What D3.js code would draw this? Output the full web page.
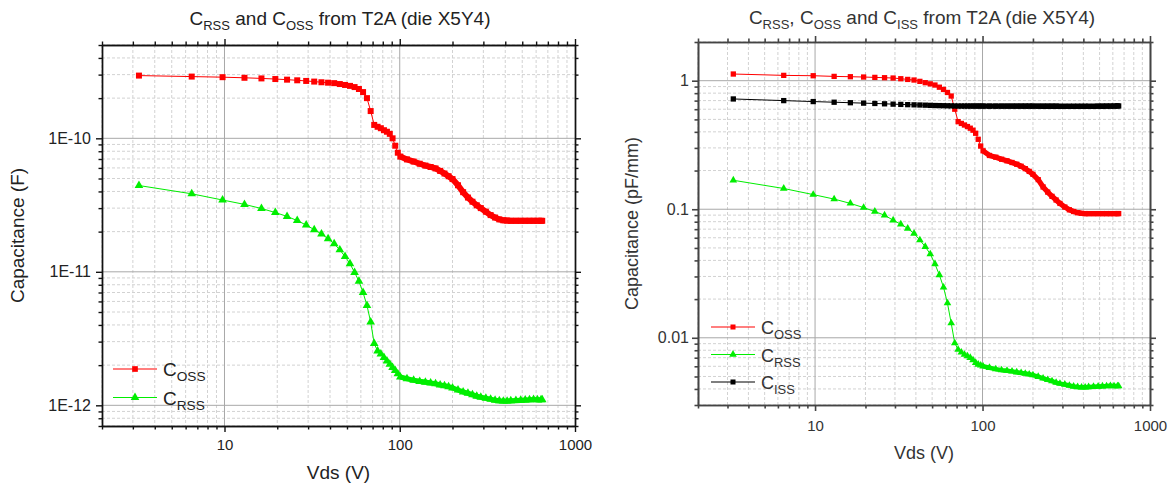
<!DOCTYPE html>
<html>
<head>
<meta charset="utf-8">
<script src="https://cdn.jsdelivr.net/npm/d3@7"></script>
<style>
  body { margin: 0; background: #fff; }
  text { font-family: "Liberation Sans", Arial, sans-serif; }
</style>
</head>
<body>
<svg id="chart"></svg>
<script>
// measurement grid (V)
const vds = [3.25, 6.5, 9.75, 13, 16.25, 19.5, 22.75, 26, 29.25, 32.5,
  35.75, 39, 42.25, 45.5, 48.75, 52, 55.25, 58.5, 61.75, 65,
  68.25, 71.5, 74.75, 78, 81.25, 84.5, 87.75, 91, 94.25, 97.5,
  100.75, 110, 120, 130, 140, 150, 160, 170, 180, 190,
  200, 215, 230, 245, 260, 275, 290, 310, 330, 350,
  370, 390, 410, 430, 460, 490, 520, 550, 580, 610,
  640, 650];

// left panel, farads
const cossF = [2.95e-10, 2.90e-10, 2.87e-10, 2.84e-10, 2.81e-10, 2.78e-10, 2.75e-10, 2.72e-10, 2.69e-10, 2.66e-10,
  2.63e-10, 2.61e-10, 2.59e-10, 2.55e-10, 2.51e-10, 2.47e-10, 2.42e-10, 2.34e-10, 2.22e-10, 2.0e-10,
  1.6e-10, 1.26e-10, 1.22e-10, 1.19e-10, 1.15e-10, 1.12e-10, 1.08e-10, 1.0e-10, 8.8e-11, 7.8e-11,
  7.3e-11, 6.95e-11, 6.7e-11, 6.45e-11, 6.25e-11, 6.1e-11, 5.95e-11, 5.7e-11, 5.45e-11, 5.2e-11,
  4.95e-11, 4.45e-11, 3.95e-11, 3.6e-11, 3.35e-11, 3.15e-11, 3.0e-11, 2.82e-11, 2.66e-11, 2.55e-11,
  2.47e-11, 2.43e-11, 2.42e-11, 2.41e-11, 2.41e-11, 2.41e-11, 2.41e-11, 2.41e-11, 2.41e-11, 2.41e-11,
  2.41e-11, 2.41e-11];
const crssF = [4.43e-11, 3.84e-11, 3.45e-11, 3.2e-11, 2.98e-11, 2.78e-11, 2.6e-11, 2.42e-11, 2.24e-11, 2.07e-11,
  1.92e-11, 1.77e-11, 1.62e-11, 1.46e-11, 1.3e-11, 1.15e-11, 9.9e-12, 8.5e-12, 7.0e-12, 5.6e-12,
  4.2e-12, 2.9e-12, 2.55e-12, 2.42e-12, 2.28e-12, 2.15e-12, 2.03e-12, 1.92e-12, 1.82e-12, 1.72e-12,
  1.63e-12, 1.58e-12, 1.54e-12, 1.51e-12, 1.49e-12, 1.47e-12, 1.45e-12, 1.42e-12, 1.40e-12, 1.38e-12,
  1.35e-12, 1.30e-12, 1.26e-12, 1.23e-12, 1.20e-12, 1.17e-12, 1.15e-12, 1.13e-12, 1.11e-12, 1.09e-12,
  1.08e-12, 1.075e-12, 1.075e-12, 1.08e-12, 1.085e-12, 1.09e-12, 1.095e-12, 1.10e-12, 1.105e-12, 1.10e-12,
  1.10e-12, 1.10e-12];

// right panel, pF/mm
const cossPF = [1.127, 1.10, 1.093, 1.08, 1.074, 1.068, 1.061, 1.055, 1.049, 1.036,
  1.023, 1.012, 0.988, 0.965, 0.945, 0.925, 0.89, 0.855, 0.81, 0.76,
  0.60, 0.48, 0.465, 0.452, 0.44, 0.427, 0.412, 0.39, 0.35, 0.31,
  0.285, 0.262, 0.254, 0.245, 0.238, 0.231, 0.224, 0.216, 0.207, 0.197,
  0.187, 0.170, 0.149, 0.136, 0.126, 0.118, 0.111, 0.104, 0.099, 0.096,
  0.094, 0.093, 0.0925, 0.0925, 0.0925, 0.0925, 0.0925, 0.0925, 0.0925, 0.0925,
  0.0925, 0.0925];
const crssPF = [0.168, 0.145, 0.13, 0.12, 0.111, 0.103, 0.096, 0.0898, 0.0822, 0.0765,
  0.0709, 0.0648, 0.0575, 0.0511, 0.0448, 0.0375, 0.0308, 0.0247, 0.0186, 0.013,
  0.0091, 0.0081, 0.0077, 0.0074, 0.0072, 0.0070, 0.0067, 0.0064, 0.0062, 0.0061,
  0.0060, 0.00585, 0.0057, 0.0056, 0.00555, 0.00548, 0.0054, 0.00533, 0.00527, 0.0052,
  0.00512, 0.00498, 0.00483, 0.00471, 0.0046, 0.00448, 0.0044, 0.00433, 0.00425, 0.00418,
  0.00414, 0.00412, 0.00412, 0.00414, 0.00416, 0.00418, 0.0042, 0.00421, 0.00423, 0.00421,
  0.00421, 0.00421];
const cissPF = [0.721, 0.70, 0.688, 0.68, 0.674, 0.669, 0.665, 0.661, 0.657, 0.654,
  0.651, 0.649, 0.647, 0.645, 0.643, 0.641, 0.640, 0.639, 0.638, 0.637,
  0.636, 0.635, 0.635, 0.635, 0.635, 0.635, 0.635, 0.635, 0.635, 0.635,
  0.635, 0.634, 0.634, 0.634, 0.634, 0.634, 0.634, 0.634, 0.634, 0.634,
  0.634, 0.633, 0.633, 0.633, 0.633, 0.633, 0.632, 0.632, 0.632, 0.632,
  0.632, 0.632, 0.632, 0.632, 0.632, 0.633, 0.633, 0.634, 0.634, 0.635,
  0.636, 0.636];

const xTicks = [10, 100, 1000];
const xTickLabels = ["10", "100", "1000"];
const yTicksF = [1e-12, 1e-11, 1e-10];
const yTickLabelsF = ["1E-12", "1E-11", "1E-10"];
const yTicksPF = [0.01, 0.1, 1];
const yTickLabelsPF = ["0.01", "0.1", "1"];

const svg = d3.select("#chart").attr("width", 1170).attr("height", 490);
svg.append("rect").attr("width", 1170).attr("height", 490).attr("fill", "#fff");

// 2..9 x 10^n inside the domain
function minorTicks(domain) {
  const out = [];
  for (let e = Math.floor(Math.log10(domain[0])); e <= Math.ceil(Math.log10(domain[1])); e++) {
    for (let k = 2; k <= 9; k++) {
      const v = k * Math.pow(10, e);
      if (v >= domain[0] * 0.999 && v <= domain[1] * 1.001) out.push(v);
    }
  }
  return out;
}

// text with C + subscript pieces
function richText(sel, parts, big, small) {
  parts.forEach((p, i) => {
    const t = sel.append("tspan").text(p[0]).attr("font-size", p[1] ? small : big);
    if (p[1]) t.attr("dy", big * 0.28);
    else if (i > 0) t.attr("dy", -big * 0.28);
  });
}

const symbols = { square: d3.symbolSquare, triangle: d3.symbolTriangle };

function drawPanel(o) {
  const g = svg.append("g");
  const x = d3.scaleLog().domain(o.xDomain).range([o.left, o.right]);
  const y = d3.scaleLog().domain(o.yDomain).range([o.bottom, o.top]);
  const xMinor = minorTicks(o.xDomain);
  const yMinor = minorTicks(o.yDomain);

  // grid
  g.append("g").selectAll("line").data(xMinor).join("line")
    .attr("x1", d => x(d)).attr("x2", d => x(d))
    .attr("y1", o.top).attr("y2", o.bottom)
    .attr("stroke", "#d2d2d2").attr("stroke-dasharray", "3,2");
  g.append("g").selectAll("line").data(yMinor).join("line")
    .attr("y1", d => y(d)).attr("y2", d => y(d))
    .attr("x1", o.left).attr("x2", o.right)
    .attr("stroke", "#d2d2d2").attr("stroke-dasharray", "3,2");
  g.append("g").selectAll("line").data(xTicks.filter(d => d < o.xDomain[1])).join("line")
    .attr("x1", d => x(d)).attr("x2", d => x(d))
    .attr("y1", o.top).attr("y2", o.bottom)
    .attr("stroke", "#a8a8a8");
  g.append("g").selectAll("line").data(o.yTicks).join("line")
    .attr("y1", d => y(d)).attr("y2", d => y(d))
    .attr("x1", o.left).attr("x2", o.right)
    .attr("stroke", "#a8a8a8");

  // series
  const line = d3.line().x(d => x(d[0])).y(d => y(d[1]));
  o.series.forEach(s => {
    const pts = vds.map((v, i) => [v, s.values[i]]);
    g.append("path")
      .datum(pts)
      .attr("fill", "none")
      .attr("stroke", s.color)
      .attr("stroke-width", 1)
      .attr("d", line);
    // where the markers crowd together they merge into a band
    g.append("path")
      .datum(pts.filter(d => d[0] >= 100))
      .attr("fill", "none")
      .attr("stroke", s.color)
      .attr("stroke-width", s.shape === "square" ? o.band : o.band - 0.8)
      .attr("stroke-linejoin", "round")
      .attr("d", line);
    g.append("g").selectAll("path").data(pts).join("path")
      .attr("transform", d => `translate(${x(d[0])},${y(d[1])})`)
      .attr("d", d3.symbol().type(symbols[s.shape]).size(s.shape === "square" ? o.msize : o.msize * 0.9))
      .attr("fill", s.color);
  });

  // axes
  const styleAxis = (a, fs) => {
    a.selectAll("g").attr("font-family", null).attr("font-size", null);
    a.attr("font-family", null).attr("font-size", null);
    a.selectAll("path, line").attr("stroke", o.axisColor).attr("stroke-width", o.axisWidth);
    a.selectAll("text").attr("fill", o.textColor).attr("font-size", fs);
  };
  const bottom = g.append("g").attr("transform", `translate(0,${o.bottom})`);
  bottom.call(d3.axisBottom(x).tickValues(xMinor).tickFormat("").tickSize(3.5).tickSizeOuter(0));
  bottom.append("g").call(d3.axisBottom(x).tickValues(xTicks).tickFormat((d, i) => xTickLabels[i]).tickSize(6).tickSizeOuter(0).tickPadding(o.xPad));
  styleAxis(bottom, o.xTickFont);

  const top = g.append("g").attr("transform", `translate(0,${o.top})`);
  top.call(d3.axisTop(x).tickValues(xMinor).tickFormat("").tickSize(3.5).tickSizeOuter(0));
  top.append("g").call(d3.axisTop(x).tickValues(xTicks).tickFormat("").tickSize(6).tickSizeOuter(0));
  styleAxis(top, o.xTickFont);

  const left = g.append("g").attr("transform", `translate(${o.left},0)`);
  left.call(d3.axisLeft(y).tickValues(yMinor).tickFormat("").tickSize(3.5).tickSizeOuter(0));
  left.append("g").call(d3.axisLeft(y).tickValues(o.yTicks).tickFormat((d, i) => o.yTickLabels[i]).tickSize(6).tickSizeOuter(0).tickPadding(o.yPad));
  styleAxis(left, o.yTickFont);

  const right = g.append("g").attr("transform", `translate(${o.right},0)`);
  right.call(d3.axisRight(y).tickValues(yMinor).tickFormat("").tickSize(3.5).tickSizeOuter(0));
  right.append("g").call(d3.axisRight(y).tickValues(o.yTicks).tickFormat("").tickSize(6).tickSizeOuter(0));
  styleAxis(right, o.yTickFont);

  // labels
  g.append("text")
    .attr("x", (o.left + o.right) / 2).attr("y", o.xLabelY)
    .attr("text-anchor", "middle").attr("font-size", o.labelFont).attr("fill", o.textColor)
    .text("Vds (V)");
  g.append("text")
    .attr("transform", `translate(${o.yLabelX},${(o.top + o.bottom) / 2}) rotate(-90)`)
    .attr("text-anchor", "middle").attr("font-size", o.labelFont).attr("fill", o.textColor)
    .text(o.yLabel);

  const title = g.append("text")
    .attr("x", o.titleX).attr("y", o.titleY)
    .attr("text-anchor", "middle").attr("fill", o.textColor);
  richText(title, o.title, 19, 13);

  // legend
  o.series.forEach((s, i) => {
    const ly = o.legendY + i * o.legendStep;
    g.append("line")
      .attr("x1", o.legendX).attr("x2", o.legendX + 44)
      .attr("y1", ly).attr("y2", ly)
      .attr("stroke", s.color).attr("stroke-width", 1.2);
    g.append("path")
      .attr("transform", `translate(${o.legendX + 22},${ly})`)
      .attr("d", d3.symbol().type(symbols[s.shape]).size(o.msize * 0.9))
      .attr("fill", s.color);
    const t = g.append("text")
      .attr("x", o.legendX + 50).attr("y", ly + 7)
      .attr("fill", o.textColor);
    richText(t, [["C", false], [s.sub, true]], o.legendFont, o.legendFont * 0.72);
  });
}

drawPanel({
  left: 102, right: 575, top: 45, bottom: 426,
  xDomain: [2, 1000], yDomain: [7e-13, 5e-10],
  yTicks: yTicksF, yTickLabels: yTickLabelsF,
  series: [
    { values: cossF, color: "#ff0000", shape: "square", sub: "OSS" },
    { values: crssF, color: "#00ee00", shape: "triangle", sub: "RSS" }
  ],
  msize: 36, band: 6, axisColor: "#111", axisWidth: 1.4, textColor: "#222",
  xTickFont: 15, yTickFont: 16, xPad: 7, yPad: 5, labelFont: 19,
  xLabelY: 479, yLabelX: 24, yLabel: "Capacitance (F)",
  title: [["C", false], ["RSS", true], [" and C", false], ["OSS", true], [" from T2A (die X5Y4)", false]],
  titleX: 340, titleY: 25,
  legendX: 113, legendY: 369, legendStep: 28.5, legendFont: 19
});

drawPanel({
  left: 698, right: 1150, top: 42, bottom: 405,
  xDomain: [2, 1000], yDomain: [0.003, 2],
  yTicks: yTicksPF, yTickLabels: yTickLabelsPF,
  series: [
    { values: cossPF, color: "#ff0000", shape: "square", sub: "OSS" },
    { values: crssPF, color: "#00ee00", shape: "triangle", sub: "RSS" },
    { values: cissPF, color: "#000000", shape: "square", sub: "ISS" }
  ],
  msize: 28, band: 5.3, axisColor: "#444", axisWidth: 1.6, textColor: "#333",
  xTickFont: 15, yTickFont: 16, xPad: 9, yPad: 3, labelFont: 18,
  xLabelY: 459, yLabelX: 638, yLabel: "Capacitance (pF/mm)",
  title: [["C", false], ["RSS", true], [", C", false], ["OSS", true], [" and C", false], ["ISS", true], [" from T2A (die X5Y4)", false]],
  titleX: 922, titleY: 24,
  legendX: 711, legendY: 327, legendStep: 27.5, legendFont: 18
});
</script>
</body>
</html>
